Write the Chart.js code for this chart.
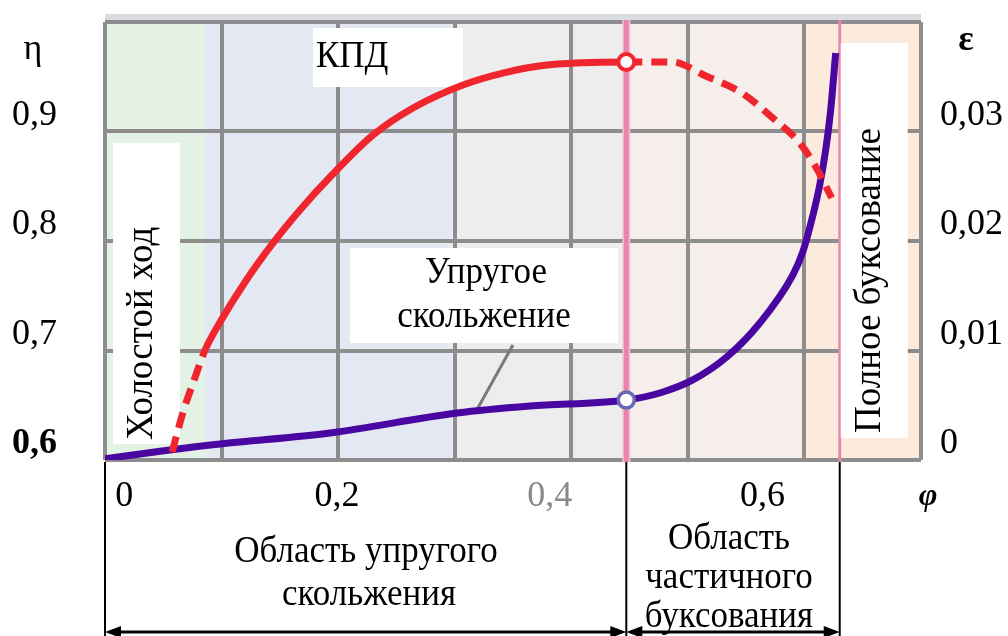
<!DOCTYPE html>
<html>
<head>
<meta charset="utf-8">
<script src="https://cdn.jsdelivr.net/npm/chart.js@4.4.1/dist/chart.umd.min.js"></script>
<style>
  body { margin: 0; background: #fff; }
  #wrap { width: 1008px; height: 636px; }
</style>
</head>
<body>
<div id="wrap"><canvas id="slipChart" width="1008" height="636"></canvas></div>
<script>
// φ axis (буксование / коэффициент), η (КПД) left, ε (скольжение) right
const phiTicks = [0, 0.2, 0.4, 0.6];
const phiLabels = ['0', '0,2', '0,4', '0,6'];
const etaTicks = [0.6, 0.7, 0.8, 0.9, 1.0];
const etaLabels = ['0,6', '0,7', '0,8', '0,9', ''];
const epsTicks = [0, 0.01, 0.02, 0.03, 0.04];
const epsLabels = ['0', '0,01', '0,02', '0,03', ''];

// КПД curve
const kpdPhi = [0.0451, 0.0554, 0.0658, 0.0761, 0.0902, 0.1137, 0.1400, 0.1653, 0.1935, 0.2339, 0.2715,
                0.3185, 0.3598, 0.3974, 0.472, 0.5148, 0.5467, 0.5806, 0.6087, 0.6350, 0.6491, 0.6651];
const kpdEta = [0.6073, 0.6438, 0.6731, 0.7005, 0.7260, 0.7626, 0.7982, 0.8283, 0.8584, 0.8968, 0.9215,
                0.9425, 0.9543, 0.9607, 0.9635, 0.9635, 0.9507, 0.9352, 0.9132, 0.8895, 0.8694, 0.8393];

// slip curve ε
const slipPhi = [-0.018, 0.034, 0.0902, 0.1935, 0.3128, 0.3814, 0.472, 0.5035, 0.5345, 0.5665, 0.5975,
                 0.6285, 0.6379, 0.6463, 0.6538, 0.6594, 0.6641, 0.6688];
const slipEps = [0.0001, 0.0008, 0.00146, 0.00247, 0.00429, 0.00493, 0.00548, 0.00612, 0.00731, 0.00941,
                 0.01251, 0.01689, 0.01900, 0.02192, 0.02511, 0.02831, 0.03196, 0.03717];

// background zones along φ and the two zone boundaries
const zoneEdges = [-0.018, 0.0761, 0.308, 0.472, 0.6407, 0.749];
const zoneLines = [0.472, 0.6726];
// leader from the "Упругое скольжение" label to the slip curve (φ, ε)
const leaderPhi = [0.3654, 0.3325];
const leaderEps = [0.0105, 0.00475];

const SERIF = "'Liberation Serif', 'Times New Roman', serif";
const GRID = '#8d8d8d';
const RED = '#f0262e';
const BLUE = '#4a06a0';

function txt(c, s, x, y, font, align, sy) {
  c.save();
  c.font = font;
  c.textAlign = align || 'left';
  c.textBaseline = 'alphabetic';
  c.translate(x, y);
  c.scale(1, sy || 1);
  c.fillStyle = '#000';
  c.fillText(s, 0, 0);
  c.restore();
}

function vtxt(c, s, x, y, font) {
  c.save();
  c.font = font;
  c.textAlign = 'left';
  c.textBaseline = 'alphabetic';
  c.translate(x, y);
  c.rotate(-Math.PI / 2);
  c.fillStyle = '#000';
  c.fillText(s, 0, 0);
  c.restore();
}

function arrow(c, x1, x2, y) {
  c.save();
  c.strokeStyle = '#000';
  c.fillStyle = '#000';
  c.lineWidth = 3;
  c.beginPath();
  c.moveTo(x1 + 10, y);
  c.lineTo(x2 - 10, y);
  c.stroke();
  c.beginPath();
  c.moveTo(x1, y); c.lineTo(x1 + 16, y - 6); c.lineTo(x1 + 16, y + 6); c.closePath();
  c.moveTo(x2, y); c.lineTo(x2 - 16, y - 6); c.lineTo(x2 - 16, y + 6); c.closePath();
  c.fill();
  c.restore();
}

// tick padding must not push the plot area around
function noPad(s) {
  s.paddingTop = 0; s.paddingBottom = 0; s.paddingLeft = 0; s.paddingRight = 0;
}

const zonesPlugin = {
  id: 'zones',
  beforeDraw(chart) {
    const c = chart.ctx, a = chart.chartArea, x = chart.scales.x;
    const fills = ['#e4f2e5', '#e4e8f3', '#ededed', '#f5eeea', '#fcebdc'];
    c.save();
    c.fillStyle = '#dcdde2';
    c.fillRect(a.left, a.top - 8, a.right - a.left, 6);
    for (let i = 0; i < fills.length; i++) {
      const l = x.getPixelForValue(zoneEdges[i]);
      const r = x.getPixelForValue(zoneEdges[i + 1]);
      c.fillStyle = fills[i];
      c.fillRect(l, a.top, r - l, a.bottom - a.top);
    }
    c.restore();
  },
  beforeDatasetsDraw(chart) {
    const c = chart.ctx, a = chart.chartArea, x = chart.scales.x;
    const y2 = chart.scales.y2;
    c.save();
    // zone boundaries
    const p1 = x.getPixelForValue(zoneLines[0]);
    const p2 = x.getPixelForValue(zoneLines[1]);
    c.fillStyle = '#f2c4d4';
    c.fillRect(p1 - 4, a.top - 2, 8, a.bottom - a.top + 4);
    c.fillStyle = '#ea86ac';
    c.fillRect(p1 - 2.5, a.top - 2, 5, a.bottom - a.top + 4);
    c.fillRect(p2 - 1.5, a.top - 2, 3, a.bottom - a.top + 4);

    // label boxes
    c.fillStyle = '#fff';
    c.fillRect(313, 28, 150, 59);
    c.fillRect(350, 248, 268, 95);
    c.fillRect(113, 143, 67, 301);
    c.fillRect(p2 + 1, 43, 67, 395);

    txt(c, 'КПД', 316, 67, '35px ' + SERIF, 'left', 1.1);
    txt(c, 'Упругое', 486, 283, '35px ' + SERIF, 'center', 1.1);
    txt(c, 'скольжение', 484, 327, '35px ' + SERIF, 'center', 1.1);
    vtxt(c, 'Холостой ход', 152, 440, '37px ' + SERIF);
    vtxt(c, 'Полное буксование', 880, 433, '37px ' + SERIF);

    // leader line
    c.strokeStyle = '#7a7a7a';
    c.lineWidth = 3;
    c.beginPath();
    c.moveTo(x.getPixelForValue(leaderPhi[0]), y2.getPixelForValue(leaderEps[0]));
    c.lineTo(x.getPixelForValue(leaderPhi[1]), y2.getPixelForValue(leaderEps[1]));
    c.stroke();
    c.restore();
  },
  afterDraw(chart) {
    const c = chart.ctx, a = chart.chartArea, x = chart.scales.x;
    const H = chart.height;
    const left = a.left;
    const p1 = x.getPixelForValue(zoneLines[0]);
    const p2 = x.getPixelForValue(zoneLines[1]);
    c.save();
    c.strokeStyle = '#000';
    c.lineWidth = 2;
    [left, p1, p2].forEach(px => {
      c.beginPath();
      c.moveTo(px, a.bottom + 2);
      c.lineTo(px, H);
      c.stroke();
    });
    c.restore();
    arrow(c, left, p1, 632);
    arrow(c, p1, p2, 632);

    txt(c, 'Область упругого', 366, 562, '35px ' + SERIF, 'center', 1.1);
    txt(c, 'скольжения', 369, 605, '35px ' + SERIF, 'center', 1.1);
    txt(c, 'Область', 729, 549, '35px ' + SERIF, 'center', 1.1);
    txt(c, 'частичного', 729, 588, '35px ' + SERIF, 'center', 1.1);
    txt(c, 'буксования', 729, 627, '35px ' + SERIF, 'center', 1.1);

    txt(c, 'η', 33, 59, '36px ' + SERIF, 'center');
    txt(c, 'ε', 966, 50, 'bold 36px ' + SERIF, 'center');
    txt(c, 'φ', 928, 505, 'italic bold 32px ' + SERIF, 'center');
  }
};

const dashed = [16, 9];
const atBoundary = ctx => ctx.raw && Math.abs(ctx.raw.x - zoneLines[0]) < 1e-6 ? 8 : 0;

new Chart(document.getElementById('slipChart'), {
  type: 'line',
  data: {
    datasets: [
      {
        label: 'КПД',
        data: kpdPhi.map((v, i) => ({ x: v, y: kpdEta[i] })),
        yAxisID: 'y',
        borderColor: RED,
        borderWidth: 7,
        cubicInterpolationMode: 'monotone',
        segment: {
          borderDash: ctx => (ctx.p1.parsed.x <= zoneEdges[1] + 1e-9 || ctx.p0.parsed.x >= zoneLines[0] - 1e-9) ? dashed : undefined
        },
        pointRadius: atBoundary,
        pointBackgroundColor: '#fff',
        pointBorderColor: RED,
        pointBorderWidth: 4
      },
      {
        label: 'ε',
        data: slipPhi.map((v, i) => ({ x: v, y: slipEps[i] })),
        yAxisID: 'y2',
        borderColor: BLUE,
        borderWidth: 7,
        cubicInterpolationMode: 'monotone',
        pointRadius: atBoundary,
        pointBackgroundColor: '#fff',
        pointBorderColor: '#6a66b8',
        pointBorderWidth: 3.5
      }
    ]
  },
  options: {
    responsive: false,
    animation: false,
    devicePixelRatio: 1,
    layout: { padding: { top: 22, left: 0, right: 0, bottom: 0 } },
    plugins: { legend: { display: false }, tooltip: { enabled: false } },
    scales: {
      x: {
        type: 'linear', position: 'bottom', min: -0.018, max: 0.749,
        afterBuildTicks: s => { s.ticks = phiTicks.map(v => ({ value: v })); },
        afterFit: s => { s.height = 176; noPad(s); },
        grid: { display: false, drawTicks: false },
        border: { display: false },
        ticks: {
          autoSkip: false, maxRotation: 0, padding: 15,
          font: { family: SERIF, size: 36 },
          color: ctx => ctx.index === 2 ? '#8a8a8a' : '#000',
          callback: (v, i) => phiLabels[i]
        }
      },
      xg: {
        type: 'linear', position: 'bottom', min: 0, max: 7,
        afterFit: s => { s.height = 0; noPad(s); },
        ticks: { display: false, stepSize: 1 },
        grid: { color: GRID, lineWidth: 4, drawTicks: false },
        border: { display: false }
      },
      y: {
        type: 'linear', position: 'left', min: 0.6, max: 1.0,
        afterBuildTicks: s => { s.ticks = etaTicks.map(v => ({ value: v })); },
        afterFit: s => { s.width = 105; noPad(s); },
        grid: { color: GRID, lineWidth: 4, drawTicks: false },
        border: { display: false },
        ticks: {
          padding: 48, labelOffset: -16,
          font: ctx => ({ family: SERIF, size: 36, weight: ctx.index === 0 ? 'bold' : 'normal' }),
          color: '#000',
          callback: (v, i) => etaLabels[i]
        }
      },
      y2: {
        type: 'linear', position: 'right', min: 0, max: 0.04,
        afterBuildTicks: s => { s.ticks = epsTicks.map(v => ({ value: v })); },
        afterFit: s => { s.width = 87; noPad(s); },
        grid: { display: false, drawTicks: false },
        border: { display: false },
        ticks: {
          padding: 19, labelOffset: -16,
          font: { family: SERIF, size: 36 },
          color: '#000',
          callback: (v, i) => epsLabels[i]
        }
      }
    }
  },
  plugins: [zonesPlugin]
});
</script>
</body>
</html>
